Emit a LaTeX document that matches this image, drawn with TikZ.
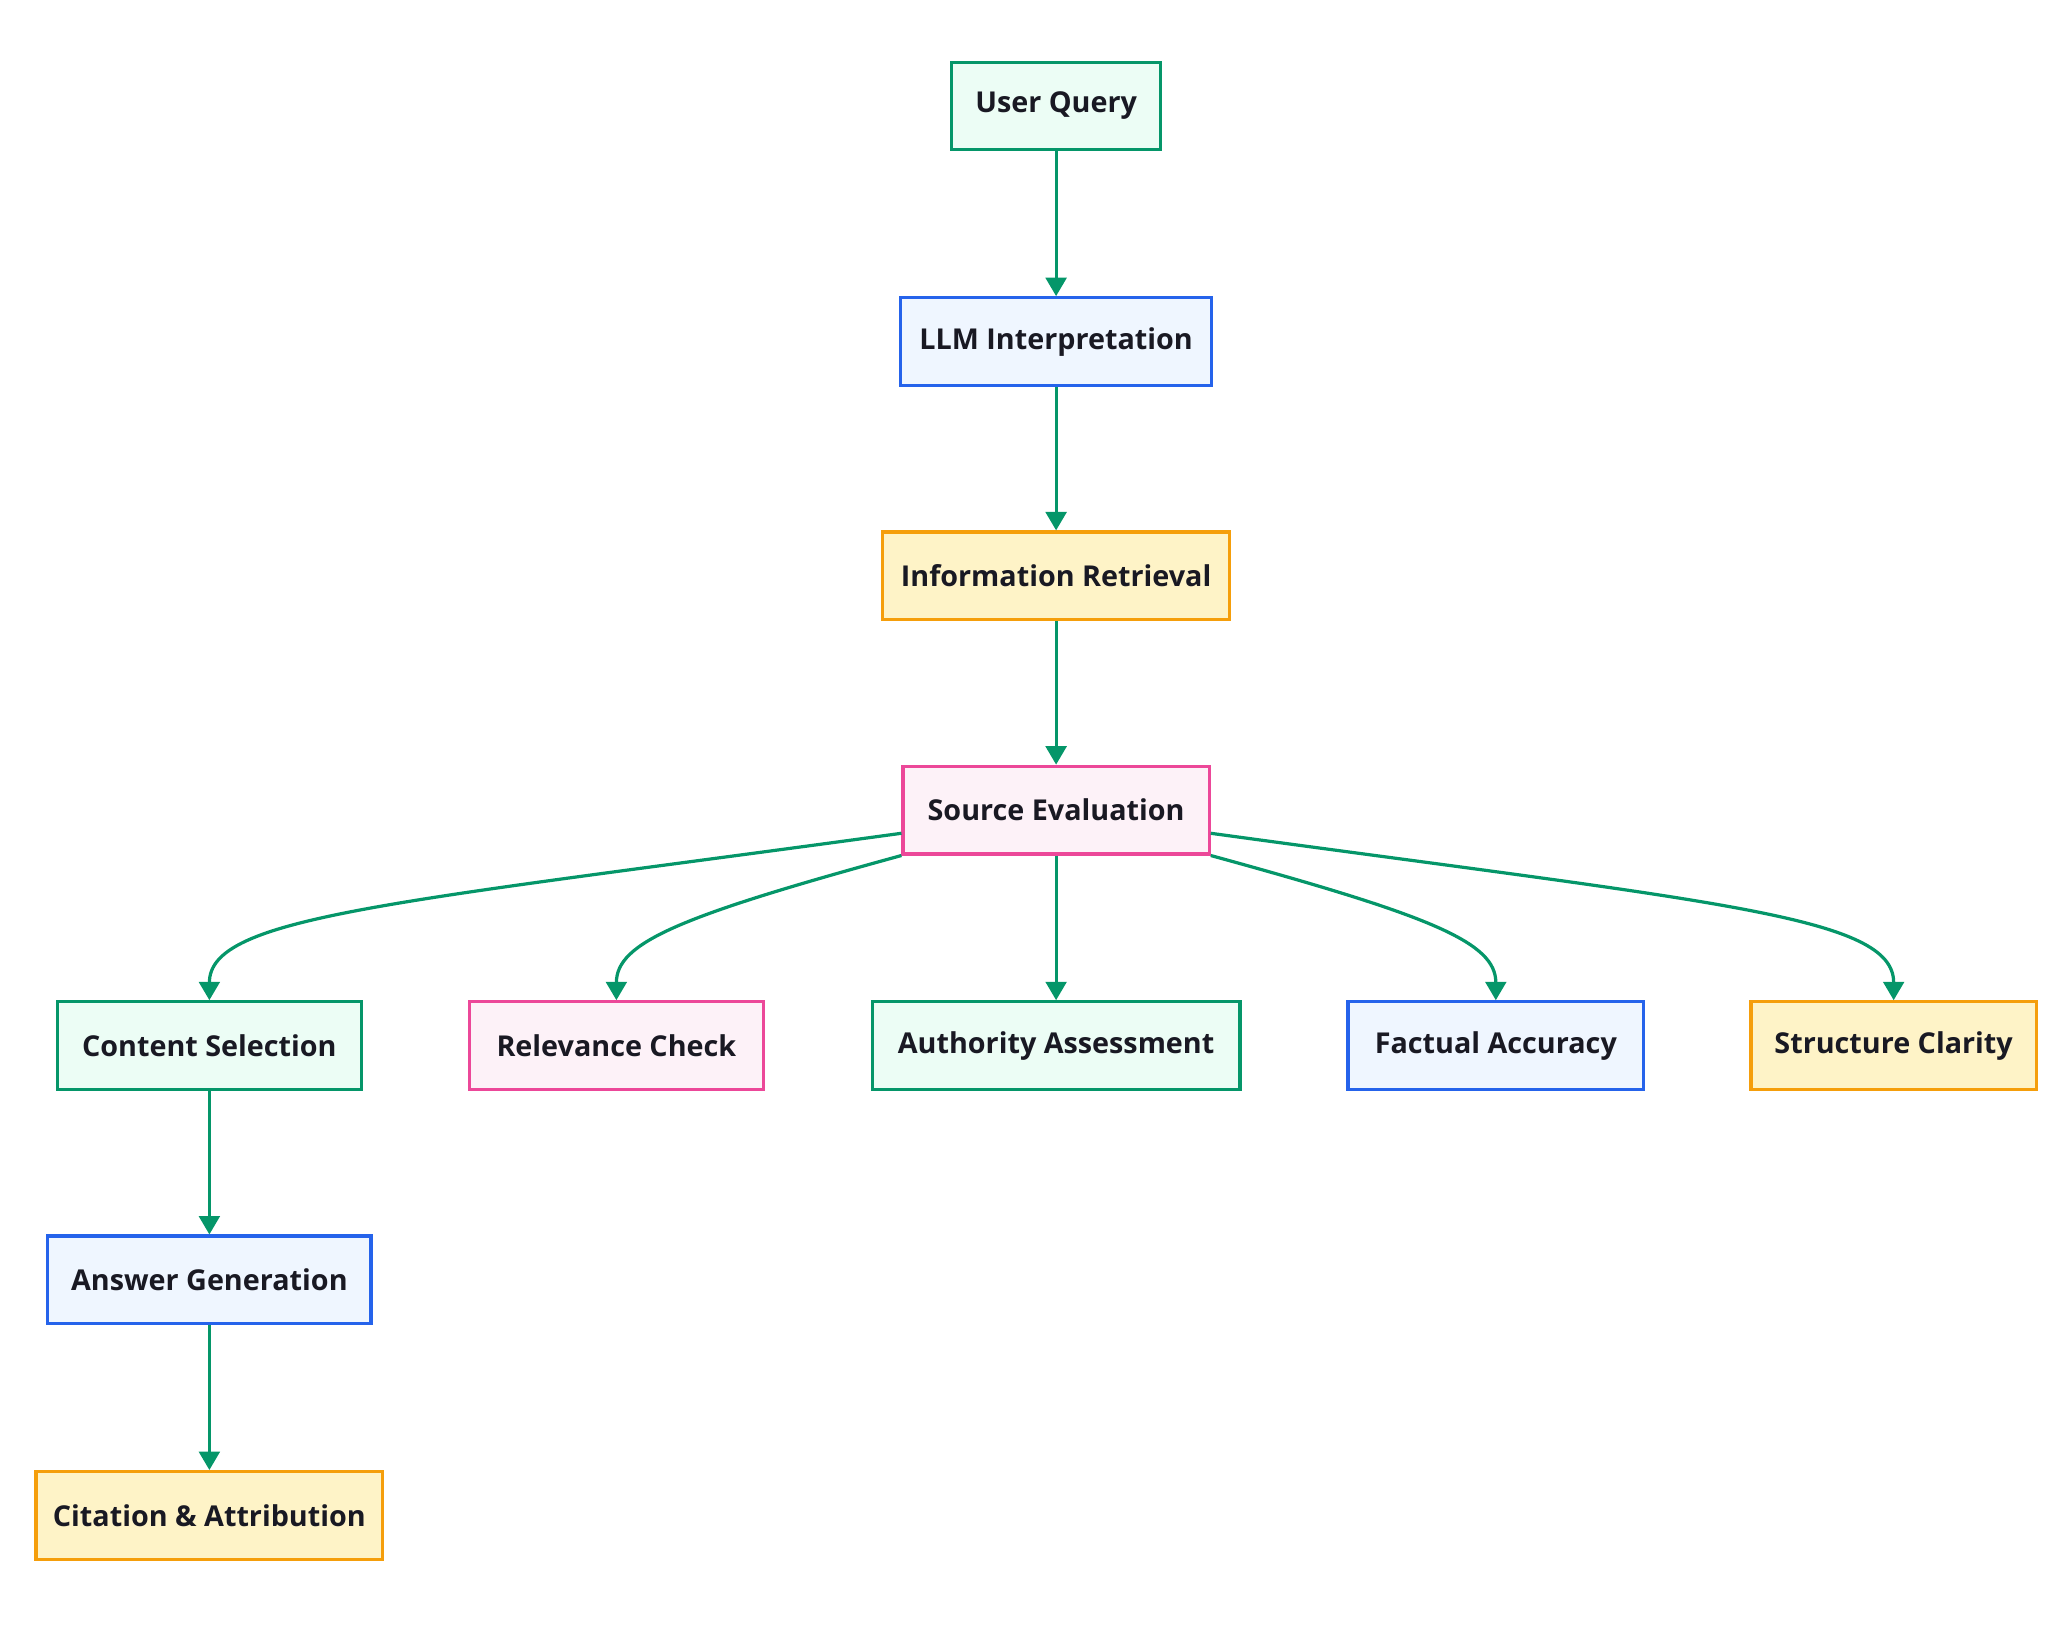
\documentclass[tikz,border=0pt]{standalone}
\usepackage{fontspec}
\setmainfont{Open Sans}
\usetikzlibrary{positioning,arrows.meta}
\definecolor{gnDraw}{RGB}{5,150,105}
\definecolor{gnFill}{RGB}{236,253,245}
\definecolor{buDraw}{RGB}{37,99,235}
\definecolor{buFill}{RGB}{239,246,255}
\definecolor{ywDraw}{RGB}{245,158,11}
\definecolor{ywFill}{RGB}{254,243,199}
\definecolor{pkDraw}{RGB}{236,72,153}
\definecolor{pkFill}{RGB}{253,242,248}
\definecolor{txGray}{RGB}{25,25,35}
\tikzset{
    base/.style={font=\fontsize{12.5}{14}\selectfont\bfseries, text=txGray, align=center,
                 rectangle, line width=1.4pt, minimum height=1.34cm, inner xsep=0pt},
    green/.style={base, draw=gnDraw, fill=gnFill},
    blue/.style={base, draw=buDraw, fill=buFill},
    yellow/.style={base, draw=ywDraw, fill=ywFill},
    pink/.style={base, draw=pkDraw, fill=pkFill},
    flow/.style={-{Triangle[length=8pt,width=9pt]}, line width=1.4pt, color=gnDraw}
}
\begin{document}
\begin{tikzpicture}[x=0.02cm, y=-0.02cm]
  \useasboundingbox (0,0) rectangle (1568,1241);

  % main chain
  \node[green, minimum width=3.2cm] (uq) at (807,81) {User Query};
  \node[blue, minimum width=4.76cm] (llm) at (807,261) {LLM Interpretation};
  \node[yellow, minimum width=5.3cm] (ir) at (807,440) {Information Retrieval};
  \node[pink, minimum width=4.68cm] (se) at (807,619) {Source Evaluation};

  % evaluation row
  \node[green, minimum width=4.64cm] (cs) at (160,799) {Content Selection};
  \node[pink, minimum width=4.5cm] (rc) at (471,799) {Relevance Check};
  \node[green, minimum width=5.62cm] (aa) at (807,799) {Authority Assessment};
  \node[blue, minimum width=4.52cm] (fa) at (1143,799) {Factual Accuracy};
  \node[yellow, minimum width=4.36cm] (sc) at (1447,799) {Structure Clarity};

  % output
  \node[blue, minimum width=4.94cm] (ag) at (160,978) {Answer Generation};
  \node[yellow, minimum width=5.3cm] (ca) at (160,1158) {Citation \& Attribution};

  % edges
  \draw[flow] (uq) -- (llm);
  \draw[flow] (llm) -- (ir);
  \draw[flow] (ir) -- (se);
  \draw[flow] (se) -- (aa);
  \draw[flow] ([yshift=0.34cm]se.south west) .. controls (300,690) and (160,700) .. (cs.north);
  \draw[flow] (se.south west) .. controls (520,700) and (471,720) .. (rc.north);
  \draw[flow] (se.south east) .. controls (1094,700) and (1143,720) .. (fa.north);
  \draw[flow] ([yshift=0.34cm]se.south east) .. controls (1314,690) and (1447,700) .. (sc.north);
  \draw[flow] (cs) -- (ag);
  \draw[flow] (ag) -- (ca);
\end{tikzpicture}
\end{document}
